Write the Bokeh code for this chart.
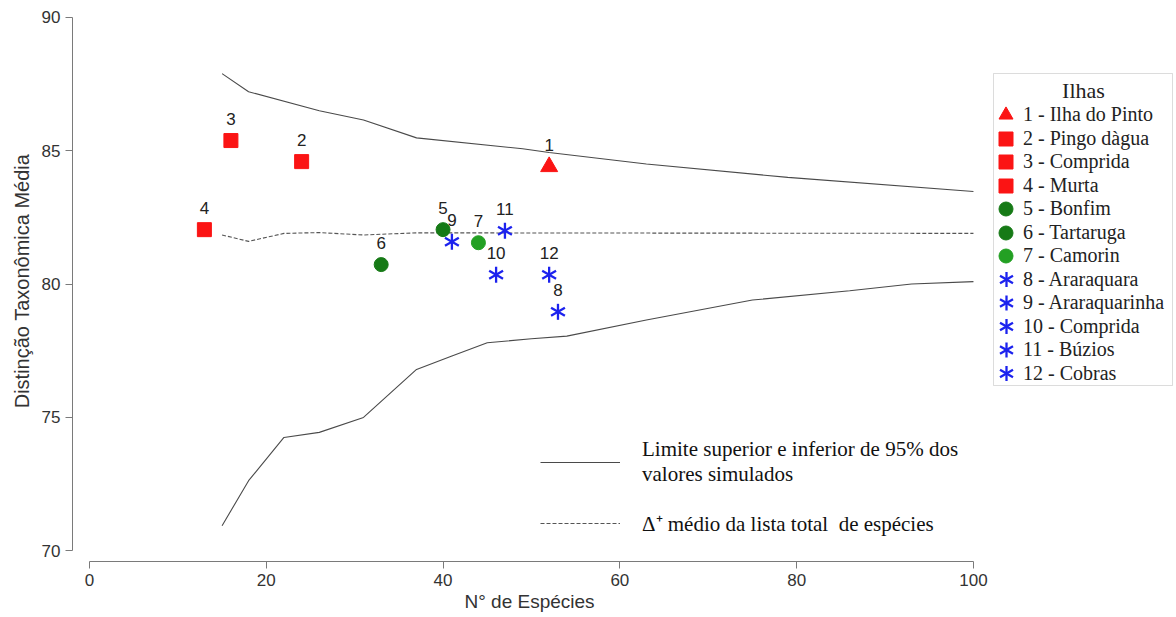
import math
from bokeh.plotting import figure
from bokeh.models import (ColumnDataSource, Legend, LegendItem, FixedTicker, Label,
                          BoxAnnotation, Range1d, Title)
from bokeh.embed import file_html
from bokeh.resources import INLINE
from bokeh.core.properties import value

# ---------------- data ----------------
upper_x = [15, 18, 26, 31, 37, 49, 52, 63, 79, 100]
upper_y = [87.89, 87.21, 86.5, 86.15, 85.48, 85.07, 84.93, 84.5, 84.0, 83.47]
lower_x = [15, 18, 22, 26, 31, 37, 41, 45, 50, 54, 63, 75, 86, 93, 100]
lower_y = [70.94, 72.63, 74.25, 74.44, 75.0, 76.8, 77.3, 77.8, 77.95, 78.05,
           78.65, 79.4, 79.75, 80.0, 80.09]
mean_x = [15, 18, 22, 26, 31, 37, 100]
mean_y = [81.84, 81.6, 81.9, 81.93, 81.84, 81.92, 81.9]

island_ids = ["1", "2", "3", "4", "5", "6", "7", "8", "9", "10", "11", "12"]
island_names = ["Ilha do Pinto", "Pingo dàgua", "Comprida", "Murta", "Bonfim",
                "Tartaruga", "Camorin", "Araraquara", "Araraquarinha", "Comprida",
                "Búzios", "Cobras"]
n_species = [52, 24, 16, 13, 40, 33, 44, 53, 41, 46, 47, 52]
delta_plus = [84.4, 84.59, 85.38, 82.04, 82.04, 80.73, 81.55, 78.96, 81.59, 80.35, 82.0, 80.35]

x_ticks = [0, 20, 40, 60, 80, 100]
y_ticks = [70, 75, 80, 85, 90]

# ---------------- layout (pixel frame) ----------------
W, H = 1176, 617
FL, FB = 72, 56                     # frame left / bottom border
X0, X1 = -1.92, 122.97
Y0, Y1 = 69.60, 90.63
FW, FH = W - FL, H - FB


def px_to_x(px):
    return X0 + (px - FL) * (X1 - X0) / FW


def py_to_y(py):
    return Y1 - py * (Y1 - Y0) / FH


LEG_ROW0, LEG_ROW_STEP, LEG_MARK_X = 114.5, 23.5, 1006

# ---------------- styles ----------------
RED, DGREEN, LGREEN, BLUE = "#fb1414", "#167a16", "#23a023", "#1c22ee"
style = {
    "1": ("triangle", RED, 17), "2": ("square", RED, 14), "3": ("square", RED, 14),
    "4": ("square", RED, 14), "5": ("circle", DGREEN, 14), "6": ("circle", DGREEN, 14),
    "7": ("circle", LGREEN, 14),
}
STAR_ANGLES = (math.pi / 2, math.pi / 6, -math.pi / 6)
labels = [f"{a} - {b}" for a, b in zip(island_ids, island_names)]
filled_idx = [i for i, k in enumerate(island_ids) if k in style]
star_idx = [i for i, k in enumerate(island_ids) if k not in style]

all_src = ColumnDataSource(dict(x=n_species, y=delta_plus, id=island_ids))
filled_src = ColumnDataSource(dict(
    x=[n_species[i] for i in filled_idx], y=[delta_plus[i] for i in filled_idx],
    marker=[style[island_ids[i]][0] for i in filled_idx],
    color=[style[island_ids[i]][1] for i in filled_idx],
    size=[style[island_ids[i]][2] for i in filled_idx]))
star_src = ColumnDataSource(dict(
    x=[n_species[i] for i in star_idx], y=[delta_plus[i] for i in star_idx]))

p = figure(width=W, height=H, output_backend="svg", toolbar_location=None,
           x_range=Range1d(X0, X1), y_range=Range1d(Y0, Y1),
           min_border_left=FL, min_border_right=0, min_border_top=0, min_border_bottom=FB)
p.outline_line_color = None
p.xgrid.visible = False
p.ygrid.visible = False
p.background_fill_color = "white"

up_r = p.line(upper_x, upper_y, line_color="#4a4a4a", line_width=1.1)
lo_r = p.line(lower_x, lower_y, line_color="#4a4a4a", line_width=1.1)
mean_r = p.line(mean_x, mean_y, line_color="#555555", line_width=1.1, line_dash="4 2")

filled_r = p.scatter(x="x", y="y", source=filled_src, marker="marker", size="size",
                     fill_color="color", line_color="color", line_width=1)
# six-armed asterisks: three rotated dashes
for a in STAR_ANGLES:
    p.scatter(x="x", y="y", source=star_src, marker="dash", size=16,
              angle=a, line_color=BLUE, line_width=2.3)
star_ghost = p.scatter(x="x", y="y", source=star_src, marker="dash", size=16,
                       line_alpha=0, fill_alpha=0)
p.text(x="x", y="y", text="id", source=all_src, y_offset=-22, text_align="center",
       text_baseline="middle", text_font=value("Liberation Sans"),
       text_font_size="17px", text_color="#222222")

# axes
for ax, ticks, bnds in ((p.xaxis, x_ticks, (0, 100)), (p.yaxis, y_ticks, (70, 90))):
    ax.ticker = FixedTicker(ticks=ticks, minor_ticks=[])
    ax.bounds = bnds
    ax.axis_line_color = "#7a7a7a"
    ax.major_tick_line_color = "#7a7a7a"
    ax.major_tick_out = 7
    ax.major_tick_in = 0
    ax.minor_tick_out = 0
    ax.minor_tick_in = 0
    ax.major_label_text_font = "Liberation Sans"
    ax.major_label_text_font_size = "17px"
    ax.major_label_text_color = "#333333"
    ax.major_label_standoff = 5
p.yaxis.axis_label = "Distinção Taxonômica Média"
p.yaxis.axis_label_text_font = "Liberation Sans"
p.yaxis.axis_label_text_font_size = "20px"
p.yaxis.axis_label_text_font_style = "normal"
p.yaxis.axis_label_text_color = "#333333"
p.yaxis.axis_label_standoff = 6

p.add_layout(Title(text="N° de Espécies", align="left", offset=392, standoff=0,
                   text_font="Liberation Sans", text_font_size="19px",
                   text_font_style="normal", text_color="#333333"), "below")

# island legend (box + title + two interleaved legends for exact row spacing)
p.add_layout(BoxAnnotation(left=px_to_x(993), right=px_to_x(1172),
                           top=py_to_y(73), bottom=py_to_y(385),
                           fill_alpha=0, line_color="#8a8a8a", line_width=1))
p.add_layout(Label(x=px_to_x(1083), y=py_to_y(90), text="Ilhas", text_align="center",
                   text_baseline="middle", text_font="Liberation Serif",
                   text_font_size="22px", text_color="#222222"))

# legend asterisk symbols (legend glyphs ignore marker angle, so drawn here)
legend_star_src = ColumnDataSource(dict(
    x=[px_to_x(LEG_MARK_X)] * len(star_idx),
    y=[py_to_y(LEG_ROW0 + LEG_ROW_STEP * i) for i in star_idx]))
for a in STAR_ANGLES:
    p.scatter(x="x", y="y", source=legend_star_src, marker="dash", size=15,
              angle=a, line_color=BLUE, line_width=2.3)


def item_for(i):
    if i in filled_idx:
        return LegendItem(label=labels[i], renderers=[filled_r], index=filled_idx.index(i))
    return LegendItem(label=labels[i], renderers=[star_ghost], index=star_idx.index(i))


for start, vy in ((0, 194), (1, 170)):
    leg = Legend(items=[item_for(i) for i in range(start, len(island_ids), 2)],
                 location=(916, vy), glyph_width=35, glyph_height=35,
                 spacing=12, padding=0, margin=0, label_standoff=0,
                 label_text_font="Liberation Serif", label_text_font_size="20px",
                 label_text_color="#222222", border_line_color=None,
                 background_fill_alpha=0)
    p.add_layout(leg)

leg2 = Legend(items=[LegendItem(label="Limite superior e inferior de 95% dos\nvalores simulados",
                                renderers=[up_r]),
                     LegendItem(label="Δ⁺ médio da lista total  de espécies", renderers=[mean_r])],
              location=(468, 24), glyph_width=80, glyph_height=20, spacing=22,
              padding=0, margin=0, label_standoff=22,
              label_text_font="Liberation Serif", label_text_font_size="21px",
              label_text_color="#111111", border_line_color=None,
              background_fill_alpha=0)
p.add_layout(leg2)

open("out.html", "w").write(file_html(p, INLINE))
